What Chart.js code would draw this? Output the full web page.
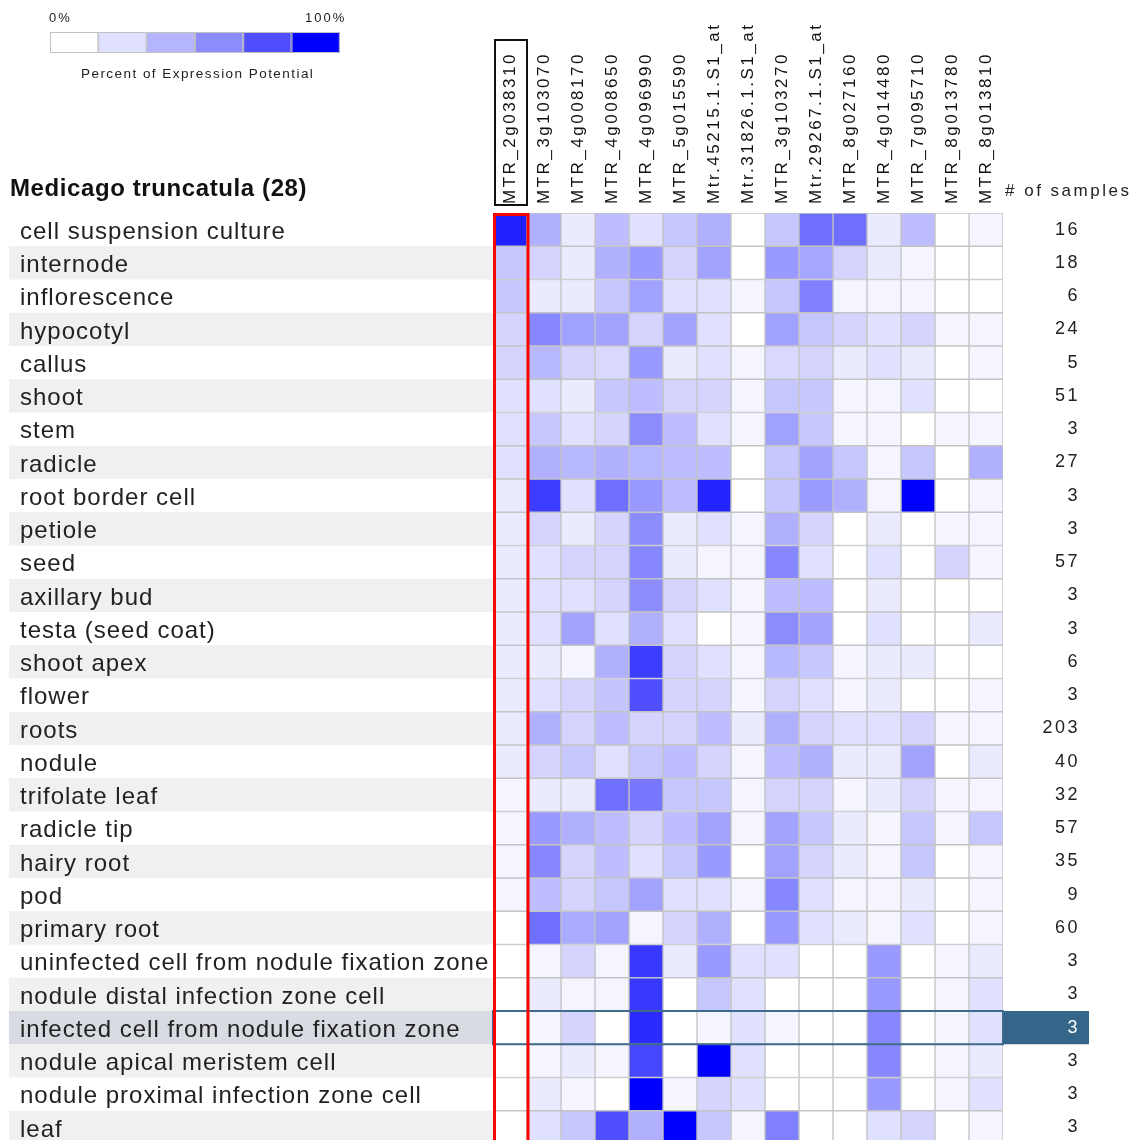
<!DOCTYPE html>
<html><head><meta charset="utf-8">
<script src="https://cdn.jsdelivr.net/npm/chart.js@4/dist/chart.umd.min.js"></script>
<style>html,body{margin:0;padding:0;background:#fff;overflow:hidden;}canvas{display:block;}</style>
</head><body>
<canvas id="c" width="1135" height="1160"></canvas>
<script>
const title = "Medicago truncatula (28)";
const genes = ["MTR_2g038310","MTR_3g103070","MTR_4g008170","MTR_4g008650","MTR_4g096990","MTR_5g015590","Mtr.45215.1.S1_at","Mtr.31826.1.S1_at","MTR_3g103270","Mtr.29267.1.S1_at","MTR_8g027160","MTR_4g014480","MTR_7g095710","MTR_8g013780","MTR_8g013810"];
const tissues = ["cell suspension culture","internode","inflorescence","hypocotyl","callus","shoot","stem","radicle","root border cell","petiole","seed","axillary bud","testa (seed coat)","shoot apex","flower","roots","nodule","trifolate leaf","radicle tip","hairy root","pod","primary root","uninfected cell from nodule fixation zone","nodule distal infection zone cell","infected cell from nodule fixation zone","nodule apical meristem cell","nodule proximal infection zone cell","leaf"];
const sampleCounts = ["16","18","6","24","5","51","3","27","3","3","57","3","3","6","3","203","40","32","57","35","9","60","3","3","3","3","3","3"];
const legendSteps = [0, 12, 29, 45, 69, 100];
const selectedRow = 24;
const selectedCol = 0;

// percent of expression potential, one array per gene (rows in tissue order)
const v_MTR_2g038310 = [88,22,22,17,17,12,12,12,8,8,8,8,8,8,8,8,8,4,4,4,4,0,0,0,0,0,0,0];
const v_MTR_3g103070 = [31,17,8,47,28,12,22,31,76,17,12,12,12,8,12,31,17,8,40,47,26,56,4,8,4,4,8,12];
const v_MTR_4g008170 = [8,8,8,37,17,8,12,28,12,8,17,12,36,4,17,17,22,8,31,17,17,33,17,4,17,8,4,22];
const v_MTR_4g008650 = [26,31,22,36,15,22,17,31,56,17,17,17,12,31,23,26,12,56,26,26,22,36,4,4,0,4,0,69];
const v_MTR_4g096990 = [12,40,37,17,40,26,45,28,40,45,47,45,31,76,69,17,22,53,17,12,36,4,78,78,83,72,100,31];
const v_MTR_5g015590 = [22,17,12,36,8,17,26,26,26,8,8,17,12,17,17,17,26,22,26,22,12,17,8,0,0,0,4,100];
const v_Mtr_45215 =    [31,36,12,12,12,17,12,26,86,12,4,12,0,12,17,26,17,22,36,40,12,31,40,22,4,100,17,22];
const v_Mtr_31826 =    [0,0,4,0,4,4,4,0,0,4,4,4,4,4,4,8,4,4,4,0,4,0,12,12,12,12,12,4];
const v_MTR_3g103270 = [22,40,22,37,15,22,37,22,22,31,47,26,45,28,17,31,26,17,36,36,47,40,12,0,4,0,0,50];
const v_Mtr_29267 =    [56,35,50,22,17,22,22,36,39,17,12,26,36,22,12,17,31,17,22,17,12,12,0,0,0,0,0,0];
const v_MTR_8g027160 = [56,17,4,17,8,4,4,22,31,0,0,0,0,4,4,12,8,4,8,8,4,8,0,0,0,0,0,0];
const v_MTR_4g014480 = [8,8,4,12,12,4,4,4,4,8,12,8,12,8,8,12,8,8,4,4,4,4,40,40,47,47,40,12];
const v_MTR_7g095710 = [26,4,4,17,8,12,0,22,100,0,0,0,0,8,0,17,36,17,22,22,8,12,0,0,0,0,0,17];
const v_MTR_8g013780 = [0,0,0,4,0,0,4,0,0,4,17,0,0,0,0,4,0,4,4,0,0,0,4,4,4,4,4,0];
const v_MTR_8g013810 = [4,0,0,4,4,0,4,31,4,4,4,0,8,0,4,4,8,4,22,4,4,4,8,12,12,8,12,4];
const geneValues = [v_MTR_2g038310,v_MTR_3g103070,v_MTR_4g008170,v_MTR_4g008650,v_MTR_4g096990,v_MTR_5g015590,v_Mtr_45215,v_Mtr_31826,v_MTR_3g103270,v_Mtr_29267,v_MTR_8g027160,v_MTR_4g014480,v_MTR_7g095710,v_MTR_8g013780,v_MTR_8g013810];

const FONT = "'Liberation Sans', Arial, sans-serif";
function shade(v) {
  const k = Math.round(255 * (1 - v / 100));
  return `rgb(${k},${k},255)`;
}
function spacing(scale, ls) {
  if (scale.$ls) return;
  scale.$ls = true;
  const orig = scale.drawLabels;
  scale.drawLabels = function (area) {
    const c = this.ctx;
    const prev = c.letterSpacing;
    c.letterSpacing = ls;
    orig.call(this, area);
    c.letterSpacing = prev || '0px';
  };
}
function text(ctx, s, x, y, font, color, ls, align) {
  ctx.save();
  ctx.font = font;
  ctx.fillStyle = color;
  ctx.letterSpacing = ls;
  ctx.textAlign = align || 'left';
  ctx.textBaseline = 'alphabetic';
  ctx.fillText(s, x, y);
  ctx.restore();
}

const decor = {
  id: 'decor',
  beforeDraw(chart) {
    const {ctx, chartArea: a, scales: {y}} = chart;
    const half = (y.getPixelForValue(1) - y.getPixelForValue(0)) / 2;
    ctx.save();
    tissues.forEach((t, i) => {
      const cy = y.getPixelForValue(i);
      let col = null;
      if (i === selectedRow) col = '#d9dbe3';
      else if (i % 2 === 1) col = '#f0f0f0';
      if (col) { ctx.fillStyle = col; ctx.fillRect(9, cy - half, a.left - 9, half * 2); }
    });
    const sy = y.getPixelForValue(selectedRow);
    ctx.fillStyle = '#36658a';
    ctx.fillRect(a.right, sy - half, 86, half * 2);
    ctx.restore();
  },
  afterDatasetsDraw(chart) {
    const {ctx, chartArea: a, scales: {y, x}} = chart;
    const half = (y.getPixelForValue(1) - y.getPixelForValue(0)) / 2;
    const sy = y.getPixelForValue(selectedRow);
    ctx.save();
    ctx.strokeStyle = '#3e6a8c';
    ctx.lineWidth = 2;
    ctx.strokeRect(a.left, sy - half, a.right - a.left, half * 2);
    const x0 = x.getPixelForValue(selectedCol), x1 = x.getPixelForValue(selectedCol + 1);
    ctx.strokeStyle = '#ff0000';
    ctx.lineWidth = 3;
    ctx.strokeRect(x0 + 1.5, a.top + 1.5, x1 - x0 - 0.5, a.bottom - a.top + 10);
    ctx.restore();
  },
  afterDraw(chart) {
    const {ctx, chartArea: a, scales: {x}} = chart;
    const lx = 50, ly = 32, bw = 48.3, bh = 21;
    ctx.save();
    legendSteps.forEach((v, i) => {
      ctx.fillStyle = shade(v);
      ctx.fillRect(lx + i * bw, ly, bw, bh);
      ctx.strokeStyle = '#c2c2c2';
      ctx.lineWidth = 1;
      ctx.strokeRect(lx + i * bw + 0.5, ly + 0.5, bw - 1, bh - 1);
    });
    ctx.restore();
    text(ctx, '0%', 49, 22, `13px ${FONT}`, '#222', '2px');
    text(ctx, '100%', 305, 22, `13px ${FONT}`, '#222', '2px');
    text(ctx, 'Percent of Expression Potential', 81, 78, `13.5px ${FONT}`, '#222', '1.45px');
    text(ctx, title, 10, 196, `bold 24px ${FONT}`, '#111', '0.6px');
    text(ctx, '# of samples', 1005, 196, `17px ${FONT}`, '#222', '2.5px');
    const x0 = x.getPixelForValue(selectedCol), x1 = x.getPixelForValue(selectedCol + 1);
    ctx.save();
    ctx.strokeStyle = '#111';
    ctx.lineWidth = 2;
    ctx.strokeRect(x0 + 2, 40, x1 - x0 - 2, a.top - 48);
    ctx.restore();
  }
};

new Chart(document.getElementById('c'), {
  type: 'bar',
  data: {
    labels: tissues,
    datasets: genes.map((g, c) => ({
      label: g,
      data: tissues.map(() => [c, c + 1]),
      backgroundColor: geneValues[c].map(shade),
      borderColor: '#c4c4c4',
      borderWidth: 1,
      borderSkipped: false,
      barPercentage: 1,
      categoryPercentage: 1,
      grouped: false
    }))
  },
  options: {
    indexAxis: 'y',
    responsive: false,
    animation: false,
    events: [],
    layout: {padding: {left: 20, right: 55, top: 0, bottom: 16}},
    plugins: {legend: {display: false}, tooltip: {enabled: false}},
    scales: {
      x: {type: 'linear', min: 0, max: 15, display: false},
      y: {
        type: 'category', position: 'left', offset: true,
        grid: {display: false}, border: {display: false},
        ticks: {crossAlign: 'far', padding: 0, labelOffset: 2.5, autoSkip: false, color: '#222', font: {family: FONT, size: 24}},
        afterFit: s => { s.width = 473; spacing(s, '1px'); }
      },
      yRight: {
        type: 'category', labels: sampleCounts, position: 'right', offset: true,
        grid: {display: false}, border: {display: false},
        ticks: {crossAlign: 'far', autoSkip: false, color: c => c.index === selectedRow ? '#ffffff' : '#222', font: {family: FONT, size: 18}},
        afterFit: s => { s.width = 77; spacing(s, '2.5px'); }
      },
      xTop: {
        type: 'category', labels: genes, position: 'top', offset: true,
        grid: {display: false, drawTicks: false}, border: {display: false},
        ticks: {minRotation: 90, maxRotation: 90, padding: 9, labelOffset: 21, autoSkip: false, color: '#111', font: {family: FONT, size: 17, lineHeight: 1.2}},
        afterFit: s => { s.height = 213; spacing(s, '2.5px'); }
      }
    }
  },
  plugins: [decor]
});
</script>
</body></html>
